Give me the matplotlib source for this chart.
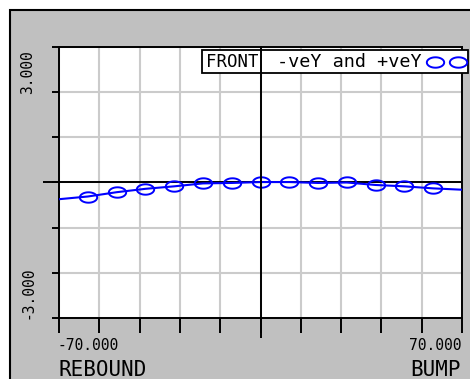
import numpy as np
import matplotlib
matplotlib.use("Agg")
import matplotlib.pyplot as plt
from matplotlib.patches import Rectangle
from matplotlib.path import Path
from matplotlib.ticker import FixedLocator

# Wheel travel (mm) and camber change for the front suspension sweep
travel = [-70, -60, -50, -40, -30, -20, -10, 0, 10, 20, 30, 40, 50, 60, 70]
camber = [-0.37, -0.31, -0.215, -0.14, -0.085, -0.02, -0.01, 0.01, 0.01,
          -0.01, 0.0, -0.055, -0.085, -0.13, -0.16]

x_limits = [-70.0, 70.0]
y_limits = [-3.0, 3.0]
x_end_labels = ["-70.000", "70.000"]
y_end_labels = ["-3.000", "3.000"]
x_names = ["REBOUND", "BUMP"]
legend_name = "FRONT"
legend_label = "-veY and +veY"

W, H = 470, 379
fig = plt.figure(figsize=(W / 100, H / 100), dpi=100)
fig.patch.set_facecolor("white")


def fx(px):
    return px / W


def fy(py):
    return 1 - py / H


mono_font = ["DejaVu Sans Mono"]

# grey panel behind the plot
fig.patches.append(Rectangle((fx(10), fy(H + 20)), fx(W + 20), fy(10) - fy(H + 20),
                             transform=fig.transFigure, facecolor="#c0c0c0",
                             edgecolor="black", linewidth=1.5, zorder=-5))

ax = fig.add_axes([fx(59), fy(318), fx(462) - fx(59), fy(47) - fy(318)])
ax.set_zorder(1)
ax.set_facecolor("white")
ax.set_xlim(*x_limits)
ax.set_ylim(*y_limits)
ax.set_xticks(np.linspace(x_limits[0], x_limits[1], 11))
ax.set_yticks(np.linspace(y_limits[0], y_limits[1], 7))
ax.tick_params(axis="both", labelbottom=False, labelleft=False,
               direction="out", color="black", width=1.4)
ax.tick_params(axis="x", length=10.8)
ax.tick_params(axis="y", length=5)
ax.xaxis.set_minor_locator(FixedLocator([0]))
ax.yaxis.set_minor_locator(FixedLocator([0]))
ax.xaxis.remove_overlapping_locs = False
ax.yaxis.remove_overlapping_locs = False
ax.tick_params(axis="x", which="minor", length=14.4, width=1.4, color="black")
ax.tick_params(axis="y", which="minor", length=11.5, width=1.4, color="black")
ax.grid(True, color="#cbcbcb", linewidth=1.5)
ax.set_axisbelow(True)
for s in ax.spines.values():
    s.set_color("black")
    s.set_linewidth(1.4)

ax.axhline(0, color="black", linewidth=1.4, zorder=2)

# wide elliptical marker
t = np.linspace(0, 2 * np.pi, 40)
ellipse = Path(np.column_stack([np.cos(t), 0.6 * np.sin(t)]), closed=True)

ax.plot(travel, camber, color="#0000ff", linewidth=1.5, marker=ellipse,
        markersize=12.5, markerfacecolor="none", markeredgecolor="#0000ff",
        markeredgewidth=1.4, markevery=slice(1, -1), zorder=3)

# legend box
ax.add_patch(Rectangle((fx(202), fy(73)), fx(468) - fx(202), fy(50) - fy(73),
                       transform=fig.transFigure, facecolor="white",
                       edgecolor="black", linewidth=1.3, zorder=5, clip_on=False))
ax.text(fx(206), fy(62), legend_name, family=mono_font, fontsize=12.5,
        ha="left", va="center", zorder=6, transform=fig.transFigure)
ax.text(fx(277), fy(62), legend_label, family=mono_font, fontsize=13.3,
        ha="left", va="center", zorder=6, transform=fig.transFigure)
ax.plot([fx(435), fx(458)], [fy(62), fy(62)], transform=fig.transFigure,
        linestyle="none", marker=ellipse, markersize=12.5, markerfacecolor="none",
        markeredgecolor="#0000ff", markeredgewidth=1.4, zorder=6, clip_on=False)

# vertical zero line drawn over the legend box
ax.axvline(0, color="black", linewidth=1.4, zorder=7, clip_on=False)

# axis end labels
fig.text(fx(58), fy(346), x_end_labels[0], family=mono_font, fontsize=10.5,
         ha="left", va="center")
fig.text(fx(462), fy(346), x_end_labels[1], family=mono_font, fontsize=10.5,
         ha="right", va="center")
fig.text(fx(58), fy(360), x_names[0], family=mono_font, fontsize=15,
         ha="left", va="top")
fig.text(fx(461), fy(360), x_names[1], family=mono_font, fontsize=15,
         ha="right", va="top")
fig.text(fx(28), fy(50), y_end_labels[1], family=mono_font, fontsize=10.5,
         rotation=90, ha="center", va="top")
fig.text(fx(28), fy(319), y_end_labels[0], family=mono_font, fontsize=10.5,
         rotation=90, ha="center", va="bottom")

fig.savefig("out.png", dpi=100)
